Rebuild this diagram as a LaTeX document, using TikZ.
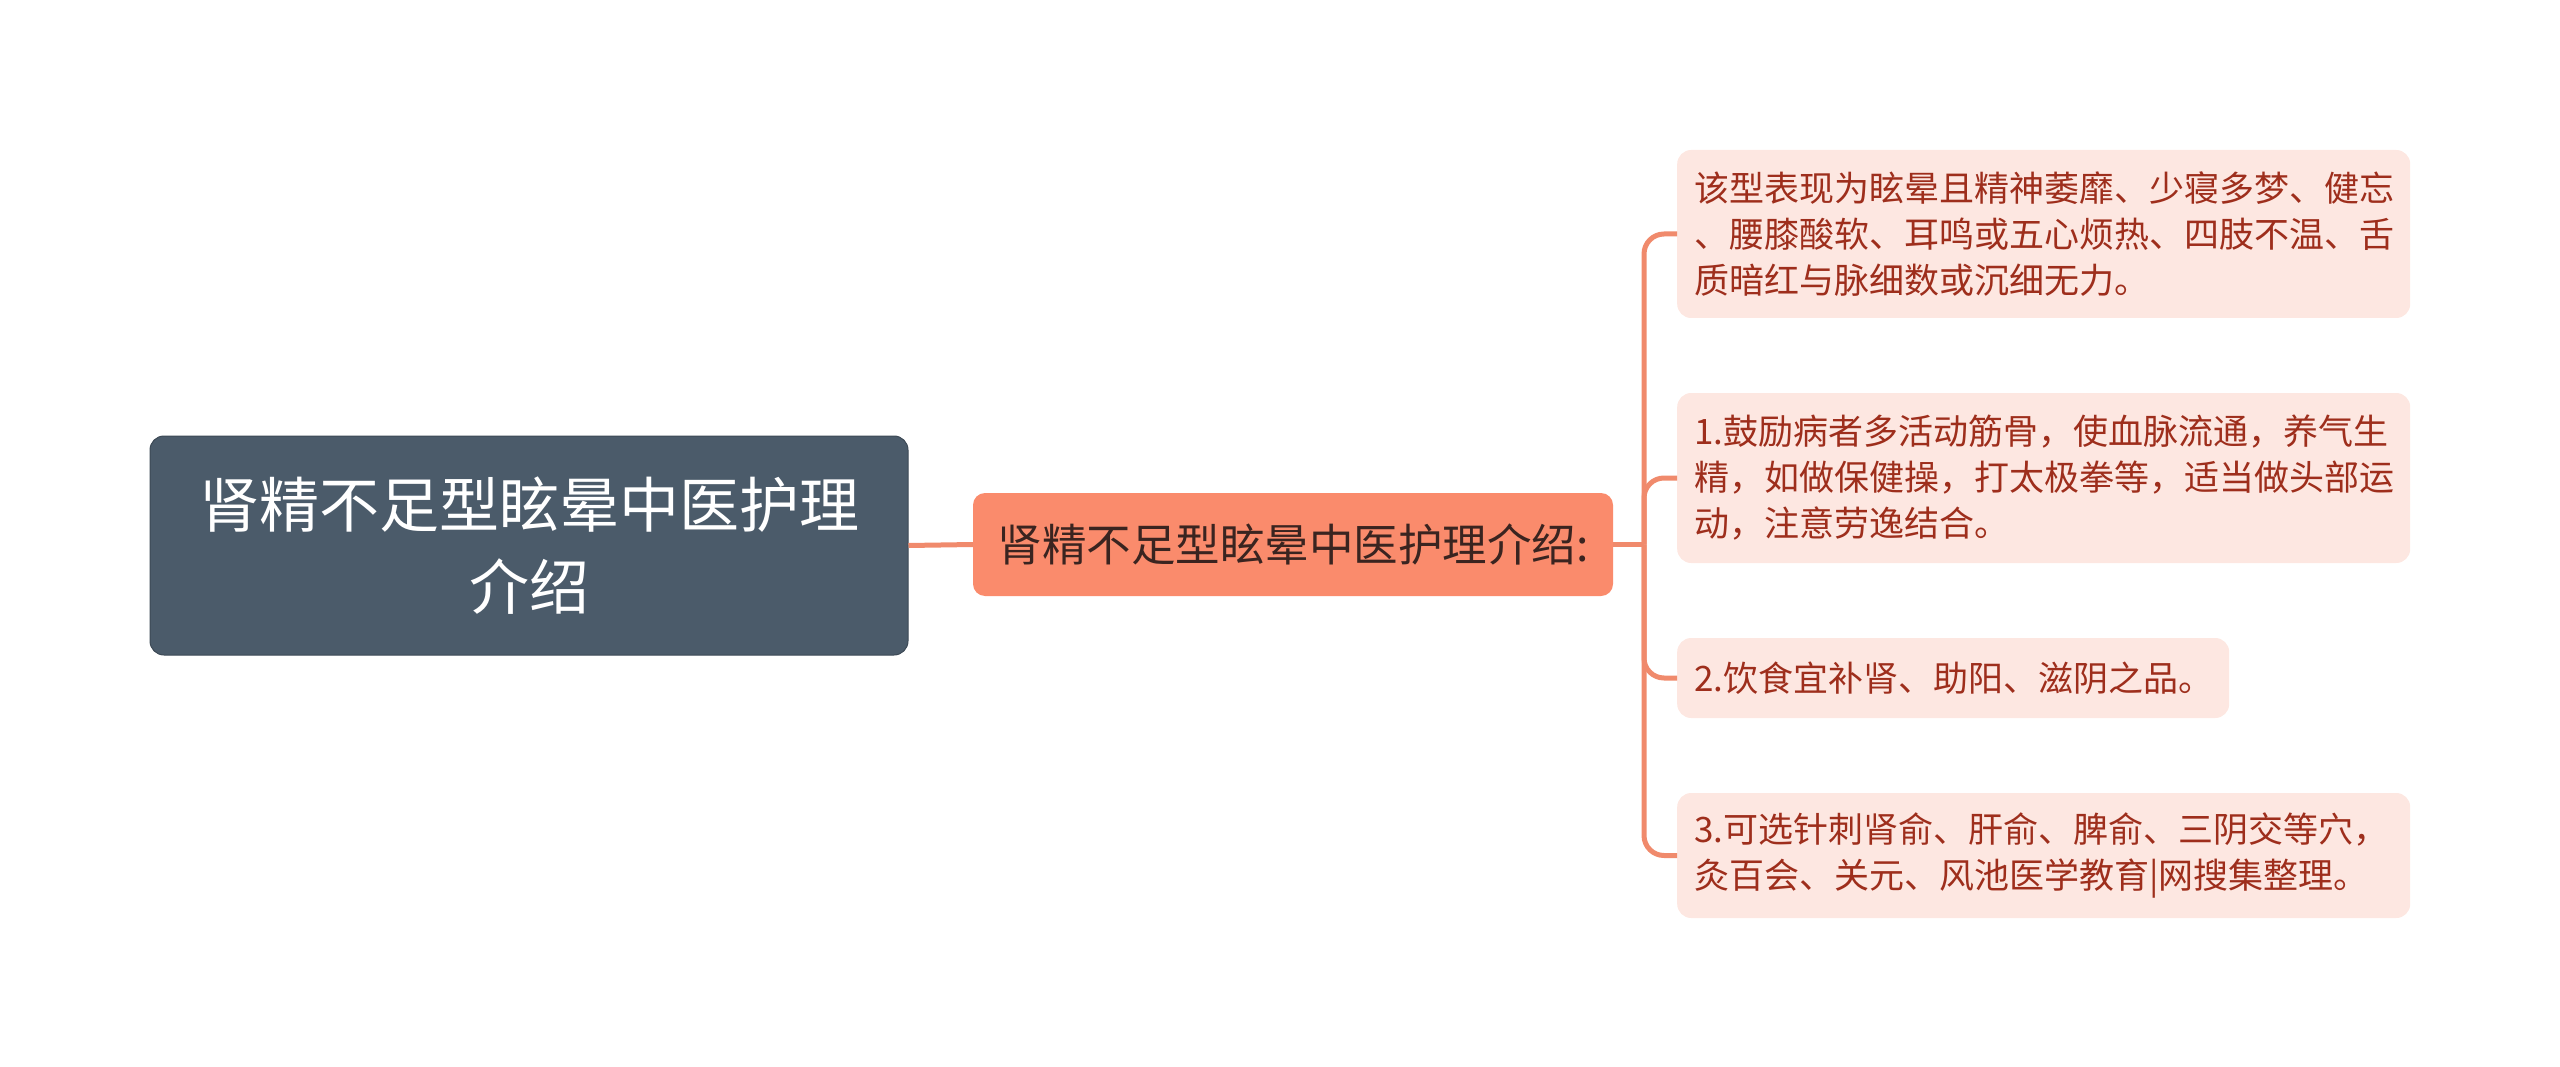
\documentclass[tikz,border=0pt]{standalone}
\usepackage{fontspec}
\setmainfont{Noto Sans CJK SC}
\definecolor{rootfill}{HTML}{4B5B6A}
\definecolor{midfill}{HTML}{FA8B6C}
\definecolor{midtext}{HTML}{3A2420}
\definecolor{leaffill}{HTML}{FDE7E1}
\definecolor{leaftext}{HTML}{9E2E1C}
\definecolor{conncol}{HTML}{F08A6C}
\tikzset{
  rootbox/.style={draw=rootfill!80!black, line width=1pt, fill=rootfill, rounded corners=14pt, text=white, align=center,
    minimum width=758pt, minimum height=219pt, inner sep=0pt, font=\fontsize{60}{82}\selectfont},
  midbox/.style={fill=midfill, rounded corners=12pt, text=midtext, align=center,
    minimum width=640pt, minimum height=103pt, inner sep=0pt, font=\fontsize{44.5}{52}\selectfont},
  leafbox/.style={fill=leaffill, rounded corners=14pt, text=leaftext, align=left, anchor=west,
    inner xsep=17pt, inner ysep=0pt, font=\fontsize{35}{46}\selectfont},
  conn/.style={draw=conncol, line width=5pt},
}
\begin{document}
\begin{tikzpicture}[x=1pt,y=-1pt]
\path[use as bounding box] (0,0) rectangle (2560,1067);
\node[rootbox] (root) at (529,545.5) {肾精不足型眩晕中医护理\\介绍};
\node[midbox] (mid) at (1293,544.5) {肾精不足型眩晕中医护理介绍:};
\node[leafbox, text width=699pt, minimum height=168pt] (n1) at (1677,234) {该型表现为眩晕且精神萎靡、少寝多梦、健忘\\、腰膝酸软、耳鸣或五心烦热、四肢不温、舌\\质暗红与脉细数或沉细无力。};
\node[leafbox, text width=699pt, minimum height=170pt] (n2) at (1677,478) {1.鼓励病者多活动筋骨，使血脉流通，养气生\\精，如做保健操，打太极拳等，适当做头部运\\动，注意劳逸结合。};
\node[leafbox, text width=518pt, minimum height=80pt] (n3) at (1677,678) {2.饮食宜补肾、助阳、滋阴之品。};
\node[leafbox, text width=699pt, minimum height=125pt] (n4) at (1677,855.5) {3.可选针刺肾俞、肝俞、脾俞、三阴交等穴，\\灸百会、关元、风池医学教育|网搜集整理。};
\coordinate (tr) at (1644,544.5);
\draw[conn] (root.east) -- (mid.west);
\draw[conn] (mid.east) -- (tr);
\foreach \c in {n1,n2,n3,n4}
  \draw[conn, rounded corners=20pt] (tr) |- (\c.west);
\end{tikzpicture}
\end{document}
